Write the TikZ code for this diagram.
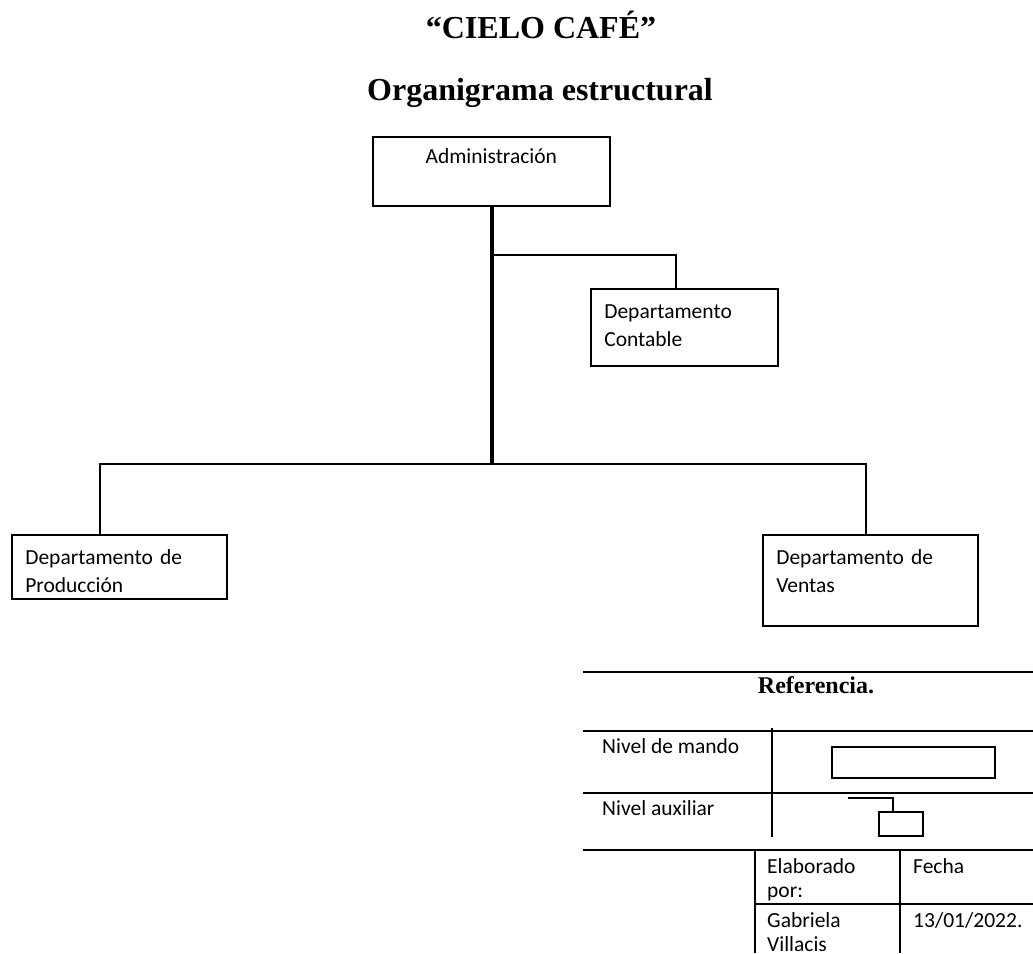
\documentclass[tikz,border=0pt]{standalone}
\usepackage{fontspec}
\setmainfont{Carlito}
\newfontfamily\titulo{Liberation Serif}
\usetikzlibrary{positioning}

\tikzset{
	caja/.style={draw, line width=1.6pt, inner ysep=0pt, inner xsep=13.5pt, anchor=north west, align=left, text height=30pt, font=\fontsize{21.5}{28}\selectfont},
	linea/.style={line width=1.6pt},
	texto/.style={anchor=base west, inner sep=0pt, align=left, font=\fontsize{21.5}{24}\selectfont},
	titular/.style={anchor=base, inner sep=0pt, font=\titulo\bfseries\fontsize{#1}{#1}\selectfont}
}

\begin{document}
\begin{tikzpicture}[x=1pt,y=-1pt]
	\useasboundingbox (0,0) rectangle (1033,953);
	\node[titular=32] (nombre) at (541,38) {“CIELO CAFÉ”};
	\node[titular=32] (tipo) at (540,100) {Organigrama estructural};
	\node[caja, align=center, text width=210pt, text height=27pt, text depth=42pt] (admin) at (372,136) {Administración};
	\node[caja, text width=160pt, text depth=47pt] (cont) at (590,288) {Departamento\\Contable};
	\node[caja, text width=188pt, text depth=34pt] (prod) at (11,534) {Departamento de\\Producción};
	\node[caja, text width=188pt, text depth=61pt] (vent) at (762,534) {Departamento de\\Ventas};
	\coordinate (bus) at (492,464);
	\coordinate (rama) at (492,255);
	\draw[linea] (rama) -| ([xshift=-8.5pt]cont.north);
	\draw[linea] ([xshift=-19.5pt]prod.north) |- (bus) -| ([xshift=-4.5pt]vent.north);
	\draw[line width=4.5pt] (admin.south -| bus) -- (bus);
	\foreach \y in {672,731,793,850}
		\draw[linea] (583,\y) -- (1033,\y);
	\draw[linea] (772,728) -- (772,837);
	\draw[linea] (755,850) -- (755,953) (900,850) -- (900,953) (755,904) -- (1033,904);
	\node[titular=24] (ref) at (816,693) {Referencia.};
	\node[texto] (nmando) at (602,753) {Nivel de mando};
	\node[texto] (naux) at (602,815) {Nivel auxiliar};
	\node[draw, linea, inner sep=0pt, minimum width=163pt, minimum height=31pt] (mando) at (913.5,762.5) {};
	\node[draw, linea, inner sep=0pt, minimum width=44pt, minimum height=24pt] (aux) at (901,824) {};
	\coordinate (auxini) at (848,798);
	\draw[linea] (auxini) -| ([xshift=-8pt]aux.north);
	\node[texto, text width=125pt] (elab) at (767,873) {Elaborado\\por:};
	\node[texto, text width=125pt] (autor) at (767,927) {Gabriela\\Villacis};
	\node[texto] (fecha) at (913,873) {Fecha};
	\node[texto] (dia) at (913,927) {13/01/2022.};
\end{tikzpicture}
\end{document}
